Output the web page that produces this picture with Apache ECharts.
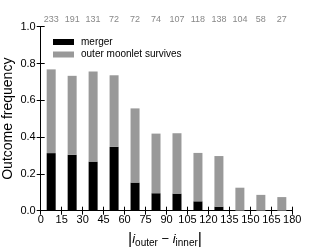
<!DOCTYPE html>
<html><head><meta charset="utf-8">
<script src="https://cdn.jsdelivr.net/npm/echarts@6/dist/echarts.min.js"></script>
<style>html,body{margin:0;padding:0;background:#fff}#c{width:325px;height:248px}</style>
</head><body><div id="c"></div>
<script>
var binLabels = ['0-15', '15-30', '30-45', '45-60', '60-75', '75-90', '90-105', '105-120', '120-135', '135-150', '150-165', '165-180'];
var counts = ['233','191','131','72','72','74','107','118','138','104','58','27'];
var merger = [0.313, 0.304, 0.267, 0.347, 0.153, 0.095, 0.093, 0.051, 0.022, 0, 0, 0];
var survives = [0.455, 0.429, 0.489, 0.389, 0.403, 0.324, 0.328, 0.263, 0.275, 0.125, 0.086, 0.074];
var xTicks = [0, 15, 30, 45, 60, 75, 90, 105, 120, 135, 150, 165, 180];
var yTicks = [0, 0.2, 0.4, 0.6, 0.8, 1.0];

var FF = 'Liberation Sans, Arial, sans-serif';
var chart = echarts.init(document.getElementById('c'), null, {renderer: 'canvas'});
var line = {show: true, lineStyle: {color: '#000', width: 1}};
chart.setOption({
  animation: false,
  grid: {left: 40.7, right: 32.7, top: 26.7, bottom: 37.3, outerBoundsMode: 'none', containLabel: false},
  legend: {
    orient: 'vertical', left: 48, top: 32, itemWidth: 21, itemHeight: 6, itemGap: 2.5,
    textStyle: {fontFamily: FF, fontSize: 10, color: '#000', padding: [0, 0, 0, 2]},
    data: [{name: 'merger', icon: 'rect'}, {name: 'outer moonlet survives', icon: 'rect'}]
  },
  xAxis: [
    {type: 'value', position: 'bottom', min: 0, max: 180, interval: 15,
      axisLine: line, axisTick: {show: true, inside: true, length: 4, lineStyle: {color: '#000'}},
      axisLabel: {fontFamily: FF, fontSize: 11, color: '#000', margin: 4,
        formatter: function (v) { return xTicks.indexOf(v) >= 0 ? String(v) : ''; }},
      splitLine: {show: false}},
    {type: 'value', position: 'top', min: 0, max: 180, interval: 15,
      axisLine: line, axisTick: {show: true, inside: true, length: 4, lineStyle: {color: '#000'}},
      axisLabel: {show: false}, splitLine: {show: false}},
    {type: 'category', position: 'top', data: binLabels, boundaryGap: true,
      axisLine: {show: false}, axisTick: {show: false},
      axisLabel: {fontFamily: FF, fontSize: 9, color: '#888', margin: 3, interval: 0,
        formatter: function (v, i) { return counts[i]; }},
      splitLine: {show: false}}
  ],
  yAxis: [
    {type: 'value', position: 'left', min: 0, max: 1, interval: 0.2,
      axisLine: line, axisTick: {show: true, inside: true, length: 4, lineStyle: {color: '#000'}},
      axisLabel: {fontFamily: FF, fontSize: 11, color: '#000', margin: 5,
        formatter: function (v) { return v.toFixed(1); }},
      splitLine: {show: false}},
    {type: 'value', position: 'right', min: 0, max: 1, interval: 0.2,
      axisLine: line, axisTick: {show: true, inside: true, length: 4, lineStyle: {color: '#000'}},
      axisLabel: {show: false}, splitLine: {show: false}}
  ],
  series: [
    {name: 'merger', type: 'bar', stack: 's', xAxisIndex: 2, yAxisIndex: 0, barWidth: 9,
      itemStyle: {color: '#000'}, data: merger},
    {name: 'outer moonlet survives', type: 'bar', stack: 's', xAxisIndex: 2, yAxisIndex: 0, barWidth: 9,
      itemStyle: {color: '#999'}, data: survives}
  ],
  graphic: [{
    type: 'text', x: 8.5, y: 118.7, rotation: Math.PI / 2,
    style: {
      text: 'Outcome frequency', align: 'center', verticalAlign: 'middle',
      fill: '#000', fontFamily: FF, fontSize: 14
    }
  }, {
    type: 'text', x: 165, y: 239.5,
    style: {
      text: '{b||}{i|i}{s|outer}{m| \u2212 }{i|i}{s|inner}{b||}',
      align: 'center', verticalAlign: 'middle', fill: '#000', fontFamily: FF,
      rich: {
        b: {fontSize: 16, fontFamily: FF, lineHeight: 18, verticalAlign: 'middle'},
        i: {fontSize: 13, fontFamily: FF, fontStyle: 'italic', lineHeight: 18, verticalAlign: 'middle'},
        s: {fontSize: 10, fontFamily: FF, lineHeight: 18, verticalAlign: 'bottom'},
        m: {fontSize: 13, fontFamily: FF, lineHeight: 18, verticalAlign: 'middle'}
      }
    }
  }]
});
</script></body></html>
